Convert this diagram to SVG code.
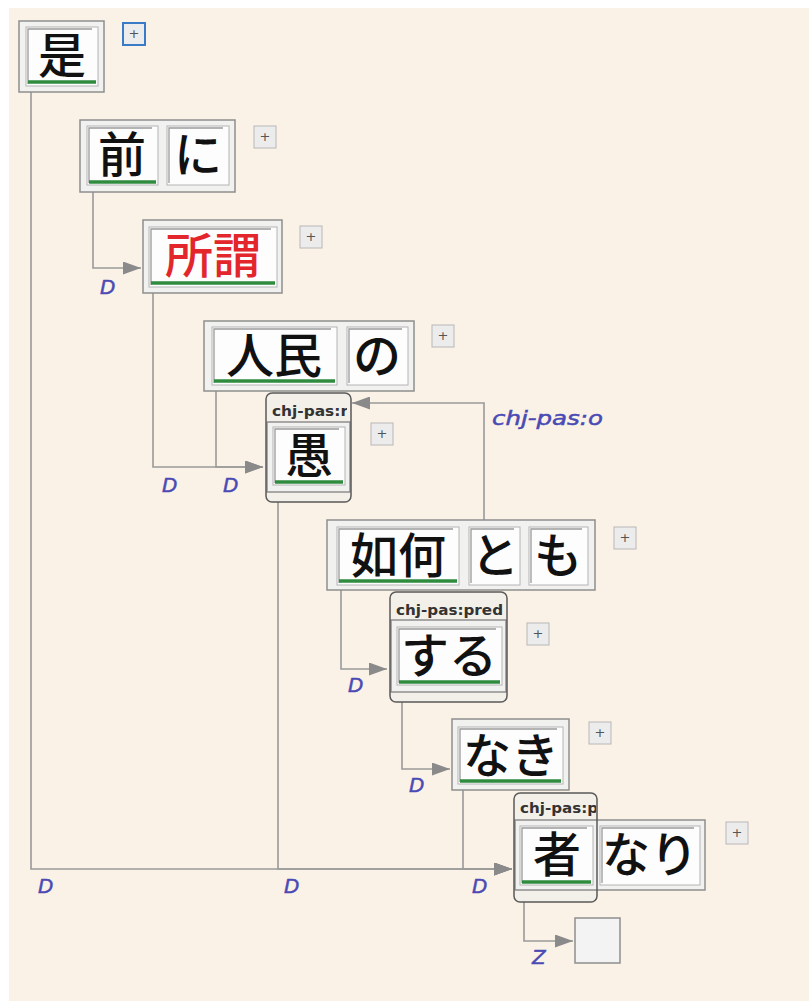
<svg xmlns="http://www.w3.org/2000/svg" width="809" height="1001" viewBox="0 0 809 1001">
<style>
.bg{fill:#faf1e7}
.ob{fill:#f1f1f0;stroke:#8e8e8e;stroke-width:1.5}
.cell{fill:#fdfdfd;stroke:#b4b4b4;stroke-width:1}
.inset{fill:none;stroke:#9a9a9a;stroke-width:1.3}
.ul{stroke:#2f8c3f;stroke-width:3.5}
.w{font-family:"Noto Sans CJK JP","Noto Sans CJK SC",sans-serif;font-size:48px;font-weight:500;fill:#111;text-anchor:middle}
.red{fill:#e3262c}
.cont{fill:#f3efe9}
.contb{fill:none;stroke:#5a5a5a;stroke-width:1.5}
.hdr{font-family:"DejaVu Sans",sans-serif;font-weight:bold;font-size:14px;fill:#333}
.edge{fill:none;stroke:#9a9a9a;stroke-width:1.6}
.lbl{font-family:"DejaVu Sans",sans-serif;font-style:italic;font-size:20px;fill:#4a4ab4;stroke:#4a4ab4;stroke-width:0.5}
.pl{fill:#ececec;stroke:#b8b8b8;stroke-width:1}
.plb{fill:#ececec;stroke:#3a7bc8;stroke-width:2}
.plt{font-family:"DejaVu Sans",sans-serif;font-size:13px;fill:#555;text-anchor:middle}
</style>
<defs>
<marker id="ah" markerUnits="userSpaceOnUse" markerWidth="18" markerHeight="13" refX="18" refY="6.5" orient="auto">
<path d="M0,0 L18,6.5 L0,13 z" fill="#8a8a8a"/>
</marker>
<clipPath id="c1"><rect x="266" y="393" width="81" height="28"/></clipPath>
<clipPath id="c2"><rect x="390" y="593" width="115" height="27"/></clipPath>
<clipPath id="c3"><rect x="515" y="794" width="81" height="26"/></clipPath>
</defs>
<rect width="809" height="1001" fill="#ffffff"/>
<rect class="bg" x="9" y="8" width="800" height="993"/>

<g id="connectors">
<path class="edge" d="M31,92 V869 H512" marker-end="url(#ah)"/>
<path class="edge" d="M93,192 V268 H141" marker-end="url(#ah)"/>
<path class="edge" d="M153,293 V467 H263" marker-end="url(#ah)"/>
<path class="edge" d="M216,391 V467 H263" marker-end="url(#ah)"/>
<path class="edge" d="M278,502 V869 H512" marker-end="url(#ah)"/>
<path class="edge" d="M341,590 V669 H387" marker-end="url(#ah)"/>
<path class="edge" d="M402,702 V769 H450" marker-end="url(#ah)"/>
<path class="edge" d="M463,790 V869 H512" marker-end="url(#ah)"/>
<path class="edge" d="M484,520 V403 H352" marker-end="url(#ah)"/>
<path class="edge" d="M524,902 V941 H573" marker-end="url(#ah)"/>
<text class="lbl" x="38" y="893">D</text>
<text class="lbl" x="100" y="294">D</text>
<text class="lbl" x="162" y="492">D</text>
<text class="lbl" x="223" y="492">D</text>
<text class="lbl" x="284" y="893">D</text>
<text class="lbl" x="348" y="692">D</text>
<text class="lbl" x="409" y="792">D</text>
<text class="lbl" x="472" y="893">D</text>
<text class="lbl" x="492" y="425" font-size="18" textLength="111" lengthAdjust="spacingAndGlyphs">chj-pas:o</text>
<text class="lbl" x="532" y="964">Z</text>
</g>

<g id="n-ze">
<rect class="ob" x="19" y="21" width="85" height="71"/>
<rect class="cell" x="26" y="27" width="72" height="59"/>
<polyline class="inset" points="28,84 28,29 92,29"/>
<line class="ul" x1="28" y1="82" x2="96" y2="82"/>
<text class="w" x="62" y="73">是</text>
<rect class="plb" x="123" y="23" width="22" height="22"/>
<text class="plt" x="134" y="38">+</text>
</g>

<g id="n-maeni">
<rect class="ob" x="80" y="120" width="155" height="72"/>
<rect class="cell" x="87" y="126" width="71" height="59"/>
<polyline class="inset" points="89,183 89,128 152,128"/>
<rect class="cell" x="167" y="126" width="62" height="59"/>
<polyline class="inset" points="169,183 169,128 223,128"/>
<line class="ul" x1="89" y1="182" x2="156" y2="182"/>
<text class="w" x="122" y="172">前</text>
<text class="w" x="198" y="172">に</text>
<rect class="pl" x="254" y="126" width="22" height="22"/>
<text class="plt" x="265" y="141">+</text>
</g>

<g id="n-iwayuru">
<rect class="ob" x="143" y="220" width="139" height="73"/>
<rect class="cell" x="149" y="227" width="128" height="60"/>
<polyline class="inset" points="151,285 151,229 271,229"/>
<line class="ul" x1="151" y1="283" x2="275" y2="283"/>
<text class="w red" x="213" y="273">所謂</text>
<rect class="pl" x="300" y="226" width="22" height="22"/>
<text class="plt" x="311" y="241">+</text>
</g>

<g id="n-jinmin">
<rect class="ob" x="204" y="321" width="210" height="70"/>
<rect class="cell" x="212" y="327" width="125" height="58"/>
<polyline class="inset" points="214,383 214,329 331,329"/>
<rect class="cell" x="347" y="327" width="61" height="58"/>
<polyline class="inset" points="349,383 349,329 402,329"/>
<line class="ul" x1="214" y1="381" x2="335" y2="381"/>
<text class="w" x="274" y="373">人民</text>
<text class="w" x="377" y="373">の</text>
<rect class="pl" x="432" y="325" width="22" height="22"/>
<text class="plt" x="443" y="340">+</text>
</g>

<g id="n-gu">
<rect class="cont" x="266" y="393" width="85" height="109" rx="6"/>
<text class="hdr" x="272" y="416" clip-path="url(#c1)" textLength="76" lengthAdjust="spacingAndGlyphs">chj-pas:r</text>
<rect class="ob" x="267" y="422" width="83" height="70"/>
<rect class="cell" x="273" y="427" width="72" height="58"/>
<polyline class="inset" points="275,483 275,429 339,429"/>
<line class="ul" x1="275" y1="482" x2="343" y2="482"/>
<text class="w" x="309" y="473">愚</text>
<rect class="contb" x="266" y="393" width="85" height="109" rx="6"/>
<rect class="pl" x="371" y="423" width="22" height="22"/>
<text class="plt" x="382" y="438">+</text>
</g>

<g id="n-ikatomo">
<rect class="ob" x="327" y="520" width="268" height="70"/>
<rect class="cell" x="337" y="527" width="122" height="58"/>
<polyline class="inset" points="339,583 339,529 453,529"/>
<rect class="cell" x="469" y="527" width="51" height="58"/>
<polyline class="inset" points="471,583 471,529 514,529"/>
<rect class="cell" x="529" y="527" width="59" height="58"/>
<polyline class="inset" points="531,583 531,529 582,529"/>
<line class="ul" x1="339" y1="581" x2="457" y2="581"/>
<text class="w" x="398" y="573">如何</text>
<text class="w" x="495" y="573">と</text>
<text class="w" x="558" y="573">も</text>
<rect class="pl" x="614" y="527" width="22" height="22"/>
<text class="plt" x="625" y="542">+</text>
</g>

<g id="n-suru">
<rect class="cont" x="390" y="592" width="117" height="110" rx="6"/>
<text class="hdr" x="396" y="615" clip-path="url(#c2)" textLength="107" lengthAdjust="spacingAndGlyphs">chj-pas:pred</text>
<rect class="ob" x="391" y="620" width="115" height="72"/>
<rect class="cell" x="397" y="627" width="105" height="58"/>
<polyline class="inset" points="399,683 399,629 496,629"/>
<line class="ul" x1="399" y1="682" x2="500" y2="682"/>
<text class="w" x="449" y="673">する</text>
<rect class="contb" x="390" y="592" width="117" height="110" rx="6"/>
<rect class="pl" x="527" y="623" width="22" height="22"/>
<text class="plt" x="538" y="638">+</text>
</g>

<g id="n-naki">
<rect class="ob" x="452" y="719" width="117" height="71"/>
<rect class="cell" x="458" y="727" width="105" height="57"/>
<polyline class="inset" points="460,782 460,729 557,729"/>
<line class="ul" x1="460" y1="781" x2="561" y2="781"/>
<text class="w" x="511" y="773">なき</text>
<rect class="pl" x="589" y="722" width="22" height="22"/>
<text class="plt" x="600" y="737">+</text>
</g>

<g id="n-mononari">
<rect class="cont" x="514" y="793" width="83" height="109" rx="6"/>
<text class="hdr" x="520" y="813" clip-path="url(#c3)" textLength="78" lengthAdjust="spacingAndGlyphs">chj-pas:p</text>
<rect class="ob" x="515" y="820" width="190" height="70"/>
<rect class="cell" x="520" y="826" width="73" height="59"/>
<polyline class="inset" points="522,883 522,828 587,828"/>
<rect class="cell" x="600" y="826" width="100" height="59"/>
<polyline class="inset" points="602,883 602,828 694,828"/>
<line class="ul" x1="522" y1="882" x2="591" y2="882"/>
<text class="w" x="557" y="872">者</text>
<text class="w" x="650" y="872">なり</text>
<rect class="contb" x="514" y="793" width="83" height="109" rx="6"/>
<rect class="pl" x="726" y="822" width="22" height="22"/>
<text class="plt" x="737" y="837">+</text>
</g>

<g id="n-empty">
<rect x="575" y="918" width="45" height="45" fill="#f3f3f3" stroke="#8e8e8e" stroke-width="1.5"/>
</g>
</svg>
